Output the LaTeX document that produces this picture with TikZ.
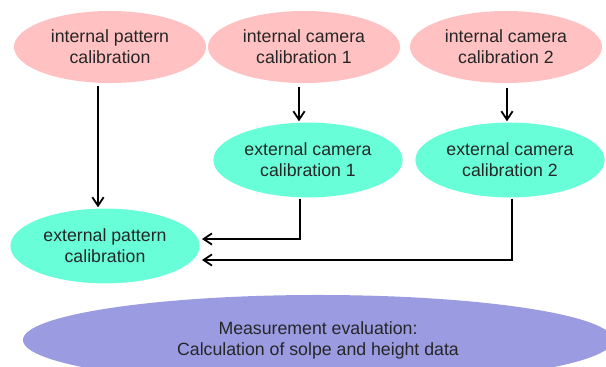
\documentclass[tikz,border=0pt]{standalone}
\usepackage{fontspec}
\setmainfont{Liberation Sans}
\usepackage{xcolor}
\usepackage{tikz}
\usetikzlibrary{arrows.meta,shapes.geometric}
\definecolor{internpink}{RGB}{255,193,193}
\definecolor{externgreen}{RGB}{104,255,216}
\definecolor{evalviolet}{RGB}{155,155,226}
\tikzset{
  calibbox/.style={ellipse,inner sep=0pt,align=center,text=black!85,
    font=\fontsize{12.6}{15}\selectfont},
  internbox/.style={calibbox,fill=internpink,minimum width=4.8cm,minimum height=1.8cm},
  externbox/.style={calibbox,fill=externgreen,minimum width=4.73cm,minimum height=1.87cm},
  evalbox/.style={calibbox,fill=evalviolet,minimum width=14.75cm,minimum height=2.25cm},
  flowarrow/.style={-{Straight Barb[length=6pt,width=8pt]},line width=1.3pt}
}
\begin{document}
\begin{tikzpicture}[x=0.025cm,y=-0.025cm]
  \useasboundingbox (0,0) rectangle (606,367);
  % top row
  \node[internbox] (ipc) at (110,47) {internal pattern\\calibration};
  \node[internbox] (icc1) at (304,47) {internal camera\\calibration 1};
  \node[internbox] (icc2) at (506,47) {internal camera\\calibration 2};
  % external calibrations
  \node[externbox] (ecc1) at (308,160) {external camera\\calibration 1};
  \node[externbox] (ecc2) at (510,160) {external camera\\calibration 2};
  \node[externbox] (epc) at (105,246) {external pattern\\calibration};
  % evaluation
  \node[evalbox] (meas) at (318,340) {Measurement evaluation:\\Calculation of solpe and height data};
  % connectors
  \draw[flowarrow] ([shift={(-12,3)}]ipc.south) -- ([shift={(-7,-1)}]epc.north);
  \draw[flowarrow] ([shift={(-5,4)}]icc1.south) -- ([shift={(-9,-1)}]ecc1.north);
  \draw[flowarrow] ([shift={(1,5)}]icc2.south) -- ([shift={(-3,-1)}]ecc2.north);
  \draw[flowarrow] ([shift={(-8,1)}]ecc1.south) |- ([shift={(2,-7)}]epc.east);
  \draw[flowarrow] ([shift={(2,1)}]ecc2.south) |- ([shift={(2,14)}]epc.east);
\end{tikzpicture}
\end{document}
